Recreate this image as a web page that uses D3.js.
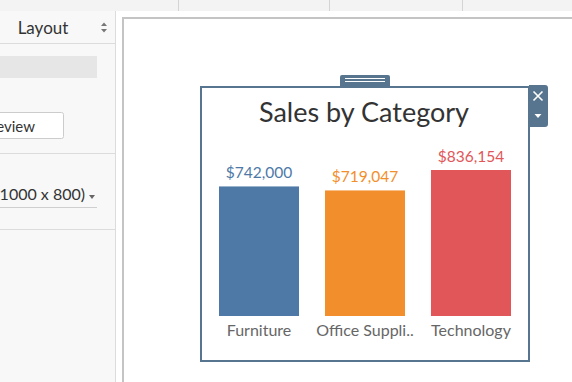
<!DOCTYPE html>
<html>
<head>
<meta charset="utf-8">
<script src="https://cdn.jsdelivr.net/npm/d3@7"></script>
<style>
  html, body { margin: 0; padding: 0; background: #fff; }
  svg { display: block; font-family: Lato, "Open Sans", sans-serif; }
</style>
</head>
<body>
<div id="chart"></div>
<script>
// Data
const categories = ["Furniture", "Office Suppli..", "Technology"];
const sales = [742000, 719047, 836154];
const barColors = ["#4e79a7", "#f28e2b", "#e15759"];
const title = "Sales by Category";

const W = 572, H = 382;
const svg = d3.select("#chart").append("svg")
    .attr("width", W)
    .attr("height", H);

// --- surrounding Tableau UI ---
svg.append("rect").attr("x", 0).attr("y", 0).attr("width", W).attr("height", H).attr("fill", "#fff");
// top strip
svg.append("rect").attr("x", 0).attr("y", 0).attr("width", W).attr("height", 11).attr("fill", "#f3f3f3");
[178, 329, 462].forEach(x => {
    svg.append("line").attr("x1", x + 0.5).attr("x2", x + 0.5).attr("y1", 0).attr("y2", 11)
        .attr("stroke", "#d4d4d4");
});

// left panel
svg.append("rect").attr("x", 0).attr("y", 11).attr("width", 115).attr("height", H - 11).attr("fill", "#f8f8f8");
svg.append("line").attr("x1", 115.5).attr("x2", 115.5).attr("y1", 11).attr("y2", H).attr("stroke", "#dcdcdc");
svg.append("line").attr("x1", 0).attr("x2", 115).attr("y1", 43.5).attr("y2", 43.5).attr("stroke", "#dcdcdc");
svg.append("text").attr("x", 43).attr("y", 34).attr("text-anchor", "middle")
    .attr("font-size", 17).attr("fill", "#333").text("Layout");
svg.append("path").attr("d", "M101,26 L104,22.5 L107,26 Z M101,29 L104,32.5 L107,29 Z").attr("fill", "#777");

svg.append("rect").attr("x", 0).attr("y", 56).attr("width", 97).attr("height", 22).attr("fill", "#e6e6e6");

// button and size picker, partly scrolled out of the panel on the left
svg.append("rect").attr("x", -5).attr("y", 112.5).attr("width", 68.5).attr("height", 26)
    .attr("rx", 2).attr("fill", "#fff").attr("stroke", "#cccccc");
svg.append("text").attr("x", 35).attr("y", 132).attr("text-anchor", "end")
    .attr("font-size", 15).attr("fill", "#333").text("Preview");

svg.append("line").attr("x1", 0).attr("x2", 115).attr("y1", 153.5).attr("y2", 153.5).attr("stroke", "#dcdcdc");
svg.append("text").attr("x", 85).attr("y", 200).attr("text-anchor", "end")
    .attr("font-size", 16).attr("fill", "#333").text("(1000 x 800)");
svg.append("path").attr("d", "M89,195 L95,195 L92,199 Z").attr("fill", "#666");
svg.append("line").attr("x1", 0).attr("x2", 97).attr("y1", 207.5).attr("y2", 207.5).attr("stroke", "#cfcfcf");
svg.append("line").attr("x1", 0).attr("x2", 115).attr("y1", 229.5).attr("y2", 229.5).attr("stroke", "#dcdcdc");

// canvas border
svg.append("path").attr("d", "M123,382 L123,18 L572,18").attr("fill", "none")
    .attr("stroke", "#c4c4c4").attr("stroke-width", 2);

// --- selected zone frame ---
const frameColor = "#57758f";
// drag handle
svg.append("path").attr("d", "M340,87 L340,77 Q340,75 342,75 L388,75 Q390,75 390,77 L390,87 Z").attr("fill", frameColor);
[78.5, 81.5].forEach(y => {
    svg.append("line").attr("x1", 345).attr("x2", 385).attr("y1", y).attr("y2", y)
        .attr("stroke", "#fff").attr("stroke-width", 1);
});
// close / menu buttons
svg.append("path").attr("d", "M529,85 L545,85 Q548,85 548,88 L548,124 Q548,127 545,127 L529,127 Z").attr("fill", frameColor);
svg.append("path").attr("d", "M533.5,91.5 L542.5,100.5 M542.5,91.5 L533.5,100.5")
    .attr("stroke", "#fff").attr("stroke-width", 1.6);
svg.append("path").attr("d", "M534.5,114 L541.5,114 L538,118 Z").attr("fill", "#fff");

svg.append("rect").attr("x", 201).attr("y", 87).attr("width", 328).attr("height", 274)
    .attr("fill", "#fff").attr("stroke", frameColor).attr("stroke-width", 2);

// --- chart ---
svg.append("text").attr("x", 364).attr("y", 122).attr("text-anchor", "middle")
    .attr("font-size", 27).attr("fill", "#333").text(title);

const x = d3.scaleBand()
    .domain(categories)
    .range([206, 524])
    .paddingInner(0.245)
    .paddingOuter(0.1226);

const y = d3.scaleLinear()
    .domain([0, d3.max(sales)])
    .range([316, 170]);

const color = d3.scaleOrdinal().domain(categories).range(barColors);
const rows = categories.map((c, i) => ({ category: c, value: sales[i] }));

svg.append("g").selectAll("rect")
    .data(rows)
    .join("rect")
    .attr("x", d => x(d.category))
    .attr("y", d => y(d.value))
    .attr("width", x.bandwidth())
    .attr("height", d => y(0) - y(d.value))
    .attr("fill", d => color(d.category));

const fmt = d3.format("$,.0f");
svg.append("g").selectAll("text")
    .data(rows)
    .join("text")
    .attr("x", d => x(d.category) + x.bandwidth() / 2)
    .attr("y", d => y(d.value) - 8)
    .attr("text-anchor", "middle")
    .attr("font-size", 15.5)
    .attr("fill", d => color(d.category))
    .text(d => fmt(d.value));

// category axis (no line / ticks, like Tableau)
const xAxis = svg.append("g")
    .attr("transform", `translate(0,${y(0)})`)
    .call(d3.axisBottom(x).tickSize(0).tickPadding(9));
xAxis.select(".domain").remove();
xAxis.selectAll("text")
    .attr("font-family", "Lato, 'Open Sans', sans-serif")
    .attr("font-size", 16)
    .attr("fill", "#666")
    .attr("dy", "0.71em");
</script>
</body>
</html>
